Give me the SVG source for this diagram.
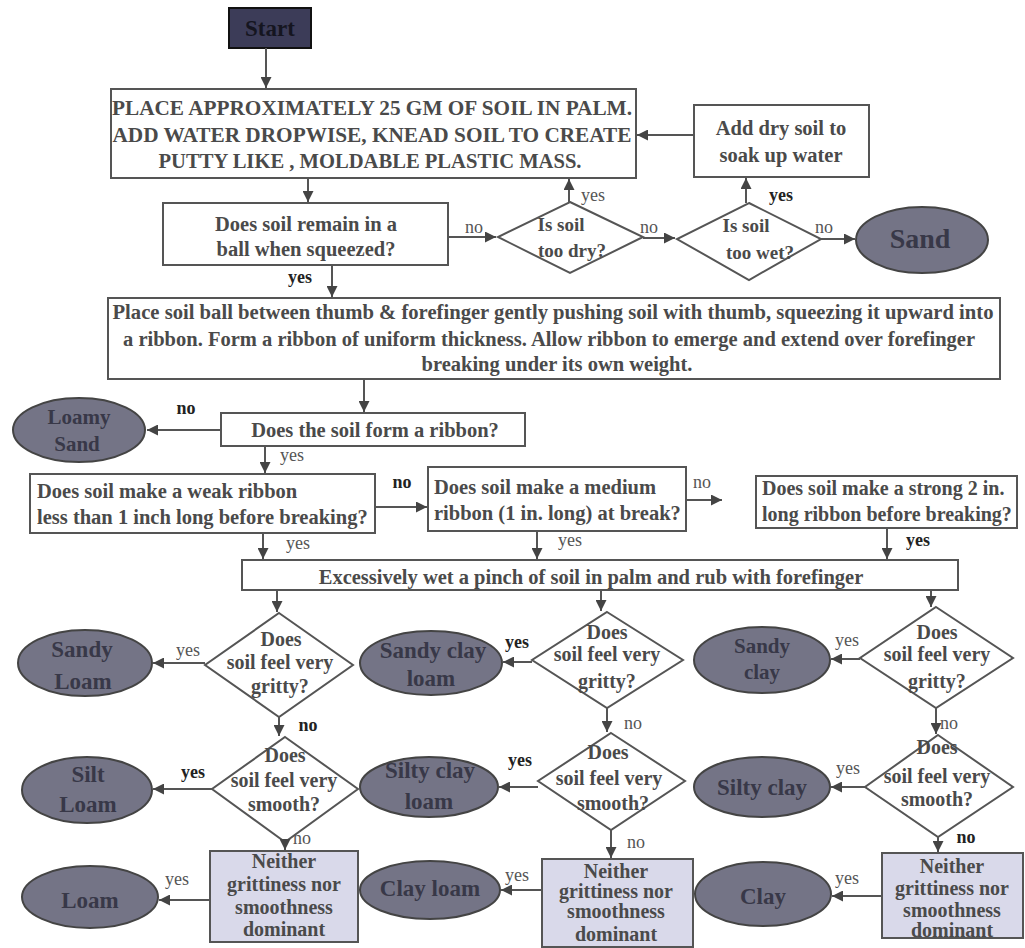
<svg xmlns="http://www.w3.org/2000/svg" width="1025" height="948" viewBox="0 0 1025 948">
<style>
.box{fill:#fff;stroke:#555;stroke-width:2}
.term{fill:#747486;stroke:#444;stroke-width:2}
.nb{fill:#d9d9ea;stroke:#555;stroke-width:2}
text{font-family:"Liberation Serif",serif;font-weight:bold;fill:#4a4a4a}
.c{text-anchor:middle}
.q{font-size:20.5px}
.d{font-size:20px}
.tt{font-size:23px;fill:#383848;text-anchor:middle}
.ln{font-size:18px;font-weight:normal;fill:#555;text-anchor:middle}
.lb{font-size:18px;font-weight:bold;fill:#222;text-anchor:middle}
.conn line{stroke:#555;stroke-width:2;marker-end:url(#ah)}
</style>
<defs>
<marker id="ah" markerWidth="12" markerHeight="11" refX="10" refY="5" orient="auto" markerUnits="userSpaceOnUse" viewBox="0 0 10 10"><path d="M0,0 L10,5 L0,10 z" fill="#444"/></marker>
</defs>
<rect width="1025" height="948" fill="#fff"/>

<g id="start"><rect x="229" y="8" width="82" height="40" fill="#3c3c58" stroke="#111" stroke-width="2"/><text x="270" y="36" class="c" style="font-size:23px;fill:#151520">Start</text></g>

<g id="place"><rect class="box" x="111" y="89" width="525" height="89"/>
<text x="372" y="115" class="c" style="font-size:21px" textLength="520" lengthAdjust="spacingAndGlyphs">PLACE APPROXIMATELY 25 GM OF SOIL IN PALM.</text>
<text x="372" y="142" class="c" style="font-size:21px" textLength="519" lengthAdjust="spacingAndGlyphs">ADD WATER DROPWISE, KNEAD SOIL TO CREATE</text>
<text x="370" y="168" class="c" style="font-size:21px" textLength="423" lengthAdjust="spacingAndGlyphs">PUTTY LIKE , MOLDABLE PLASTIC MASS.</text></g>

<g id="adddry"><rect class="box" x="694" y="105" width="175" height="72"/>
<text x="781" y="135" class="c q">Add dry soil to</text><text x="781" y="162" class="c q">soak up water</text></g>

<g id="ball"><rect class="box" x="163" y="203" width="285" height="62"/>
<text x="306" y="231" class="c q">Does soil remain in a</text><text x="306" y="256" class="c q">ball when squeezed?</text></g>

<g id="dry"><polygon class="box" points="570,202 643,237 570,273 498,237"/>
<text x="561" y="231" class="c" style="font-size:19px">Is soil</text><text x="572" y="257" class="c" style="font-size:19px">too dry?</text></g>

<g id="wet"><polygon class="box" points="749,203 821,239 749,280 677,239"/>
<text x="746" y="232" class="c" style="font-size:19px">Is soil</text><text x="760" y="259" class="c" style="font-size:19px">too wet?</text></g>

<g id="sand"><ellipse class="term" cx="922" cy="240" rx="66" ry="33"/><text x="920" y="248" class="tt" style="font-size:28px">Sand</text></g>

<g id="ribbon"><rect class="box" x="108" y="298" width="892" height="81"/>
<text x="553" y="319" class="c q" textLength="881" lengthAdjust="spacingAndGlyphs">Place soil ball between thumb &amp; forefinger gently pushing soil with thumb, squeezing it upward into</text>
<text x="549" y="346" class="c q" textLength="852" lengthAdjust="spacingAndGlyphs">a ribbon. Form a ribbon of uniform thickness. Allow ribbon to emerge and extend over forefinger</text>
<text x="557" y="371" class="c q">breaking under its own weight.</text></g>

<g id="formq"><rect class="box" x="221" y="413" width="304" height="33"/>
<text x="375" y="437" class="c q">Does the soil form a ribbon?</text></g>

<g id="loamysand"><ellipse class="term" cx="79" cy="430" rx="66" ry="32"/>
<text x="79" y="424" class="tt" style="font-size:21px">Loamy</text><text x="77" y="451" class="tt" style="font-size:21px">Sand</text></g>

<g id="weak"><rect class="box" x="30" y="474" width="345" height="59"/>
<text x="37" y="498" class="q">Does soil make a weak ribbon</text>
<text x="37" y="524" class="q">less than 1 inch long before breaking?</text></g>

<g id="medium"><rect class="box" x="428" y="467" width="258" height="64"/>
<text x="434" y="494" class="q">Does soil make a medium</text>
<text x="434" y="520" class="q">ribbon (1 in. long) at break?</text></g>

<g id="strong"><rect class="box" x="756" y="476" width="261" height="52"/>
<text x="762" y="495" class="d">Does soil make a strong 2 in.</text>
<text x="762" y="521" class="d">long ribbon before breaking?</text></g>

<g id="excess"><rect class="box" x="242" y="560" width="716" height="30"/>
<text x="591" y="584" class="c q">Excessively wet a pinch of soil in palm and rub with forefinger</text></g>

<!-- column 1 -->
<g id="grit1"><polygon class="box" points="279,613 353,665 279,717 205,665"/>
<text x="281" y="646" class="c d">Does</text><text x="280" y="669" class="c d">soil feel very</text><text x="280" y="693" class="c d">gritty?</text></g>
<g id="sandyloam"><ellipse class="term" cx="85" cy="663" rx="67" ry="33"/>
<text x="82" y="657" class="tt">Sandy</text><text x="83" y="689" class="tt">Loam</text></g>
<g id="smooth1"><polygon class="box" points="285,737 358,789 285,842 212,789"/>
<text x="285" y="762" class="c d">Does</text><text x="284" y="787" class="c d">soil feel very</text><text x="284" y="811" class="c d">smooth?</text></g>
<g id="siltloam"><ellipse class="term" cx="87" cy="790" rx="65" ry="33"/>
<text x="88" y="782" class="tt">Silt</text><text x="88" y="812" class="tt">Loam</text></g>
<g id="neither1"><rect class="nb" x="210" y="851" width="148" height="91"/>
<text x="284" y="868" class="c d">Neither</text><text x="284" y="891" class="c d">grittiness nor</text><text x="284" y="914" class="c d">smoothness</text><text x="284" y="936" class="c d">dominant</text></g>
<g id="loam"><ellipse class="term" cx="90" cy="897" rx="68" ry="31"/><text x="90" y="908" class="tt">Loam</text></g>

<!-- column 2 -->
<g id="grit2"><polygon class="box" points="607,612 683,660 607,708 532,660"/>
<text x="607" y="639" class="c d">Does</text><text x="607" y="661" class="c d">soil feel very</text><text x="607" y="688" class="c d">gritty?</text></g>
<g id="sandyclayloam"><ellipse class="term" cx="431" cy="663" rx="71" ry="32"/>
<text x="433" y="658" class="tt">Sandy clay</text><text x="431" y="686" class="tt">loam</text></g>
<g id="smooth2"><polygon class="box" points="611,733 685,781 611,830 538,781"/>
<text x="608" y="759" class="c d">Does</text><text x="609" y="785" class="c d">soil feel very</text><text x="613" y="810" class="c d">smooth?</text></g>
<g id="siltyclayloam"><ellipse class="term" cx="429" cy="787" rx="69" ry="30"/>
<text x="430" y="778" class="tt">Silty clay</text><text x="429" y="809" class="tt">loam</text></g>
<g id="neither2"><rect class="nb" x="542" y="859" width="151" height="88"/>
<text x="616" y="878" class="c d">Neither</text><text x="616" y="898" class="c d">grittiness nor</text><text x="616" y="918" class="c d">smoothness</text><text x="616" y="941" class="c d">dominant</text></g>
<g id="clayloam"><ellipse class="term" cx="430" cy="890" rx="70" ry="29"/><text x="430" y="896" class="tt">Clay loam</text></g>

<!-- column 3 -->
<g id="grit3"><polygon class="box" points="936,607 1013,658 936,708 860,658"/>
<text x="937" y="639" class="c d">Does</text><text x="937" y="661" class="c d">soil feel very</text><text x="937" y="688" class="c d">gritty?</text></g>
<g id="sandyclay"><ellipse class="term" cx="762" cy="660" rx="68" ry="33"/>
<text x="762" y="653" class="tt" style="font-size:21px">Sandy</text><text x="762" y="679" class="tt" style="font-size:21px">clay</text></g>
<g id="smooth3"><polygon class="box" points="938,735 1013,787 938,837 865,787"/>
<text x="937" y="754" class="c d">Does</text><text x="937" y="783" class="c d">soil feel very</text><text x="937" y="806" class="c d">smooth?</text></g>
<g id="siltyclay"><ellipse class="term" cx="762" cy="787" rx="68" ry="30"/><text x="762" y="795" class="tt">Silty clay</text></g>
<g id="neither3"><rect class="nb" x="882" y="853" width="141" height="85"/>
<text x="952" y="873" class="c d">Neither</text><text x="952" y="895" class="c d">grittiness nor</text><text x="952" y="917" class="c d">smoothness</text><text x="952" y="937" class="c d">dominant</text></g>
<g id="clay"><ellipse class="term" cx="763" cy="894" rx="68" ry="32"/><text x="763" y="904" class="tt">Clay</text></g>

<g class="conn">
<line x1="266" y1="48" x2="266" y2="88"/>
<line x1="308" y1="178" x2="308" y2="202"/>
<line x1="694" y1="135" x2="637" y2="135"/>
<line x1="448" y1="237" x2="496" y2="237"/>
<line x1="569" y1="202" x2="569" y2="179"/>
<line x1="643" y1="238" x2="675" y2="238"/>
<line x1="746" y1="203" x2="746" y2="178"/>
<line x1="821" y1="239" x2="855" y2="239"/>
<line x1="332" y1="265" x2="332" y2="297"/>
<line x1="364" y1="379" x2="364" y2="412"/>
<line x1="221" y1="430" x2="147" y2="430"/>
<line x1="265" y1="446" x2="265" y2="473"/>
<line x1="375" y1="507" x2="427" y2="507"/>
<line x1="686" y1="500" x2="722" y2="500"/>
<line x1="263" y1="533" x2="263" y2="559"/>
<line x1="537" y1="531" x2="537" y2="559"/>
<line x1="887" y1="528" x2="887" y2="559"/>
<line x1="277" y1="590" x2="277" y2="612"/>
<line x1="205" y1="663" x2="153" y2="663"/>
<line x1="279" y1="717" x2="279" y2="736"/>
<line x1="212" y1="789" x2="153" y2="789"/>
<line x1="285" y1="842" x2="285" y2="850"/>
<line x1="210" y1="900" x2="159" y2="900"/>
<line x1="601" y1="590" x2="601" y2="611"/>
<line x1="532" y1="662" x2="503" y2="662"/>
<line x1="607" y1="708" x2="607" y2="732"/>
<line x1="538" y1="787" x2="499" y2="787"/>
<line x1="611" y1="830" x2="611" y2="858"/>
<line x1="542" y1="890" x2="501" y2="890"/>
<line x1="931" y1="590" x2="931" y2="607"/>
<line x1="860" y1="659" x2="831" y2="659"/>
<line x1="936" y1="708" x2="936" y2="734"/>
<line x1="865" y1="787" x2="831" y2="787"/>
<line x1="938" y1="837" x2="938" y2="852"/>
<line x1="882" y1="896" x2="832" y2="896"/>
</g>

<g id="labels">
<text x="474" y="233" class="ln">no</text>
<text x="593" y="201" class="ln">yes</text>
<text x="649" y="233" class="ln">no</text>
<text x="781" y="201" class="lb">yes</text>
<text x="824" y="233" class="ln">no</text>
<text x="300" y="283" class="lb">yes</text>
<text x="186" y="414" class="lb">no</text>
<text x="292" y="461" class="ln">yes</text>
<text x="402" y="488" class="lb">no</text>
<text x="702" y="488" class="ln">no</text>
<text x="298" y="549" class="ln">yes</text>
<text x="570" y="546" class="ln">yes</text>
<text x="918" y="546" class="lb">yes</text>
<text x="188" y="656" class="ln">yes</text>
<text x="308" y="731" class="lb">no</text>
<text x="193" y="778" class="lb">yes</text>
<text x="302" y="844" class="ln">no</text>
<text x="177" y="885" class="ln">yes</text>
<text x="517" y="648" class="lb">yes</text>
<text x="633" y="729" class="ln">no</text>
<text x="520" y="766" class="lb">yes</text>
<text x="636" y="848" class="ln">no</text>
<text x="517" y="881" class="ln">yes</text>
<text x="847" y="646" class="ln">yes</text>
<text x="949" y="729" class="ln">no</text>
<text x="848" y="774" class="ln">yes</text>
<text x="966" y="843" class="lb">no</text>
<text x="847" y="884" class="ln">yes</text>
</g>
</svg>
